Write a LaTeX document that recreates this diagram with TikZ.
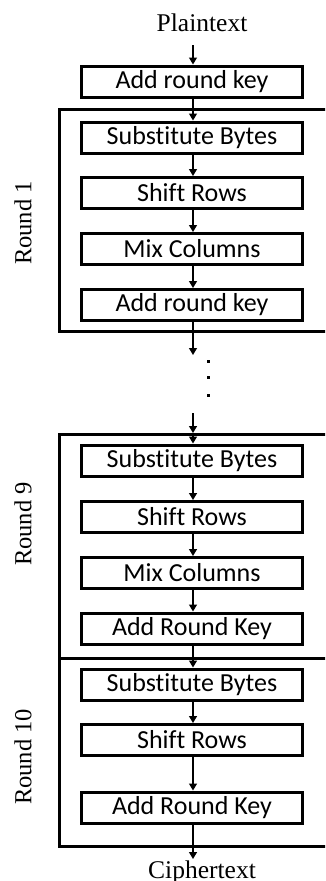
\documentclass[tikz,border=0pt]{standalone}
\usepackage{fontspec}
\setmainfont{Liberation Serif}
\newfontfamily\boxfont[Ligatures=NoCommon]{Carlito}
\usetikzlibrary{arrows.meta}
\begin{document}
\begin{tikzpicture}[x=1pt,y=-1pt,
 op/.style={draw, line width=3pt, minimum width=221pt, minimum height=31pt, inner sep=0pt, font=\boxfont\fontsize{26}{30}\selectfont},
 flow/.style={-{Triangle[width=8pt,length=7pt]}, line width=1.4pt},
 frame/.style={line width=3pt},
 lbl/.style={font=\fontsize{24.5}{28}\selectfont, rotate=90},
 ttl/.style={font=\fontsize{25.5}{28}\selectfont}]
\useasboundingbox (0,0) rectangle (325,881);
\clip (0,0) rectangle (325,881);
% frames
\draw[frame] (59.5,109.5) rectangle (335,331.5);
\draw[frame] (59.5,434.5) rectangle (335,846.5);
\draw[frame] (59.5,658) -- (335,658);
% labels
\node[lbl] (l1) at (23,223) {Round 1};
\node[lbl] (l9) at (23,524) {Round 9};
\node[lbl] (l10) at (23,757) {Round 10};
% nodes
\node[ttl] (pt) at (202,23) {Plaintext};
\node[op] (a0) at (192,81.5) {Add round key};
\node[op] (s1) at (192,137.5) {Substitute Bytes};
\node[op] (r1) at (192,193) {Shift Rows};
\node[op] (m1) at (192,249) {Mix Columns};
\node[op] (k1) at (192,305) {Add round key};
\node[op] (s9) at (192,460.5) {Substitute Bytes};
\node[op] (r9) at (192,517) {Shift Rows};
\node[op] (m9) at (192,573) {Mix Columns};
\node[op] (k9) at (192,628.5) {Add Round Key};
\node[op] (s10) at (192,684.5) {Substitute Bytes};
\node[op] (r10) at (192,740) {Shift Rows};
\node[op] (k10) at (192,807.5) {Add Round Key};
\node[ttl, anchor=base] (ct) at (202,878) {Ciphertext};
% coordinates
\coordinate (c1a) at (193,333);
\coordinate (c1b) at (193,355);
\coordinate (c9a) at (193,413);
\coordinate (c9b) at (193,433);
\coordinate (c10a) at (193,848);
\coordinate (c10b) at (193,859);
\coordinate (p0) at (193,45);
% arrows
\draw[flow] (p0) -- (a0.north -| p0);
\draw[flow] (a0.south -| p0) -- (s1.north -| p0);
\draw[flow] (s1.south -| p0) -- (r1.north -| p0);
\draw[flow] (r1.south -| p0) -- (m1.north -| p0);
\draw[flow] (m1.south -| p0) -- (k1.north -| p0);
\draw[flow] (k1.south -| p0) -- (c1b);
\draw[flow] (c9a) -- (c9b);
\draw[flow] (c9b) -- (s9.north -| p0);
\draw[flow] (s9.south -| p0) -- (r9.north -| p0);
\draw[flow] (r9.south -| p0) -- (m9.north -| p0);
\draw[flow] (m9.south -| p0) -- (k9.north -| p0);
\draw[flow] (k9.south -| p0) -- (s10.north -| p0);
\draw[flow] (s10.south -| p0) -- (r10.north -| p0);
\draw[flow] (r10.south -| p0) -- (k10.north -| p0);
\draw[flow] (k10.south -| p0) -- (c10b);
% dots
\fill (206.5,359.5) rectangle (209.5,362.5);
\fill (206.5,375.5) rectangle (209.5,378.5);
\fill (206.5,393.5) rectangle (209.5,396.5);
\end{tikzpicture}
\end{document}
